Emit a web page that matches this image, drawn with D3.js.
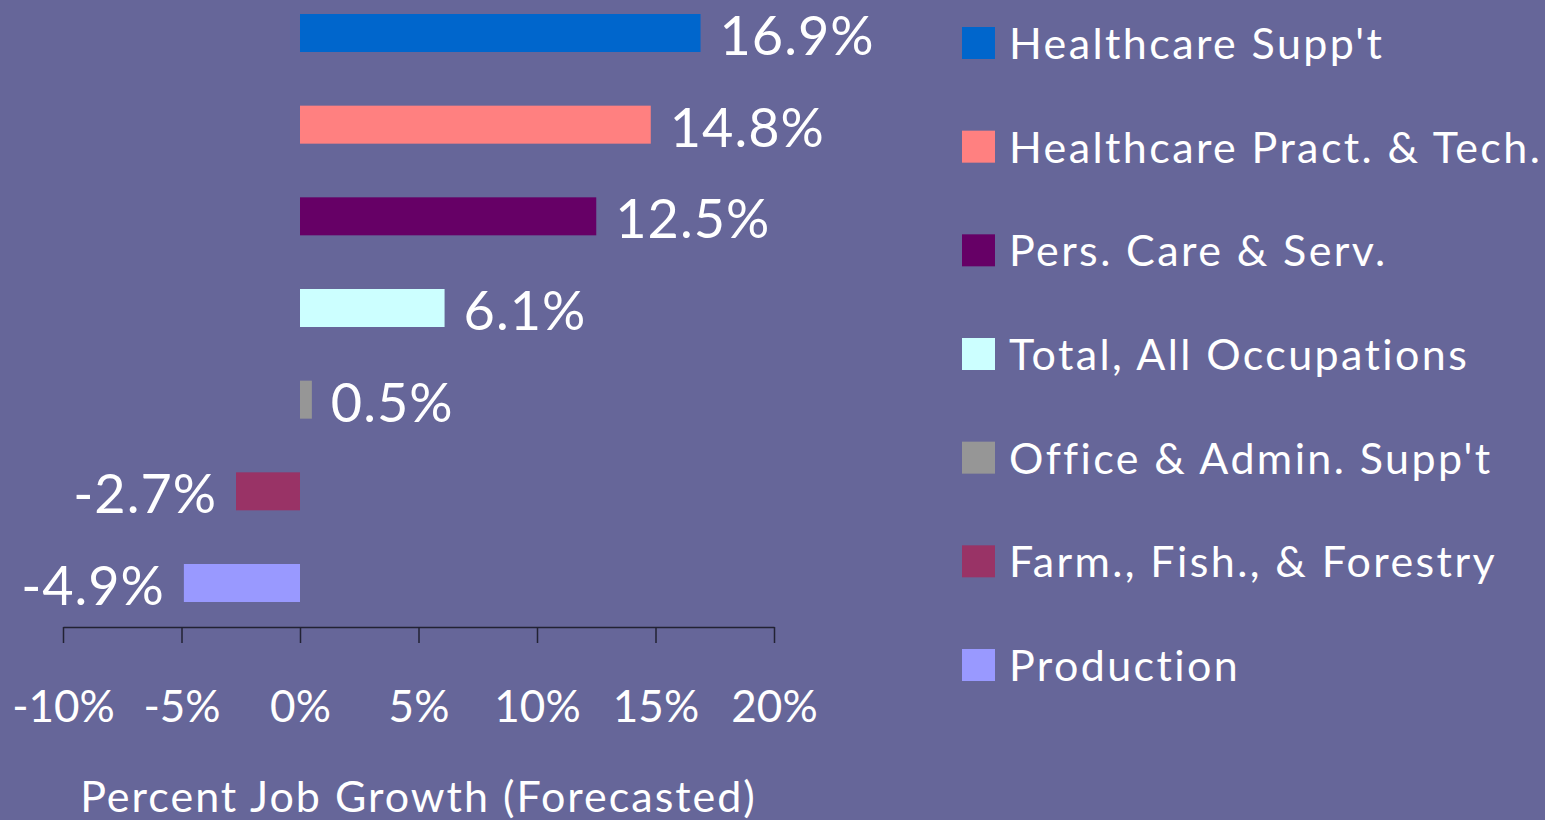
<!DOCTYPE html>
<html>
<head>
<meta charset="utf-8">
<script src="https://cdn.jsdelivr.net/npm/d3@7"></script>
<style>
  html, body { margin: 0; padding: 0; background: #666699; overflow: hidden; }
  svg text { font-family: Lato, "Open Sans", sans-serif; fill: #ffffff; }
</style>
</head>
<body>
<svg id="main-svg" width="1545" height="820"></svg>
<script>
// ----- //
// data
// ----- //
var categories = ["Healthcare Supp't", "Healthcare Pract. & Tech.", "Pers. Care & Serv.",
                  "Total, All Occupations", "Office & Admin. Supp't", "Farm., Fish., & Forestry", "Production"];
var growth = [16.9, 14.8, 12.5, 6.1, 0.5, -2.7, -4.9];
var colors = ["#0066CC", "#FF8080", "#660066", "#CCFFFF", "#969696", "#993366", "#9999FF"];
var tickValues = [-10, -5, 0, 5, 10, 15, 20];
var axisTitle = "Percent Job Growth (Forecasted)";

var rows = categories.map((c, i) => ({ name: c, value: growth[i], color: colors[i] }));

// ----- //
// scales
// ----- //
var svg = d3.select("#main-svg");
var x = d3.scaleLinear().domain([-10, 20]).range([63, 774]);
var y = d3.scalePoint().domain(categories).range([33, 583]);
var barHeight = 38;
var axisY = 627;

// bars
svg.append("g").selectAll("rect")
    .data(rows)
    .enter()
    .append("rect")
    .attr("x", d => x(Math.min(0, d.value)))
    .attr("y", d => y(d.name) - barHeight / 2)
    .attr("width", d => Math.abs(x(d.value) - x(0)))
    .attr("height", barHeight)
    .attr("fill", d => d.color);

// value labels
svg.append("g").selectAll("text")
    .data(rows)
    .enter()
    .append("text")
    .attr("x", d => d.value >= 0 ? x(d.value) + 19 : x(d.value) - 19)
    .attr("y", d => y(d.name) + 22)
    .attr("text-anchor", d => d.value >= 0 ? "start" : "end")
    .style("font-size", "54px")
    .style("letter-spacing", "1px")
    .text(d => d.value.toFixed(1) + "%");

// x axis
var axis = svg.append("g")
    .attr("transform", `translate(0,${axisY})`)
    .call(d3.axisBottom(x).tickValues(tickValues).tickSize(16).tickSizeOuter(0).tickFormat(d => d + "%"));
axis.select(".domain").attr("stroke", "#222233").attr("stroke-width", 1.5);
axis.selectAll(".tick line").attr("stroke", "#222233").attr("stroke-width", 1.5);
axis.selectAll(".tick text")
    .attr("y", 95)
    .attr("dy", 0)
    .style("font-size", "44px")
    .style("font-family", "Lato, 'Open Sans', sans-serif")
    .attr("fill", "#ffffff");

// axis title
svg.append("text")
    .attr("x", (x(-10) + x(20)) / 2)
    .attr("y", 812)
    .attr("text-anchor", "middle")
    .style("font-size", "43px")
    .style("letter-spacing", "2px")
    .text(axisTitle);

// legend
var ly = d3.scalePoint().domain(categories).range([43, 665]);
var legend = svg.append("g").selectAll("g")
    .data(rows)
    .enter()
    .append("g")
    .attr("transform", d => `translate(962,${ly(d.name)})`);
legend.append("rect")
    .attr("x", 0)
    .attr("y", -16)
    .attr("width", 33)
    .attr("height", 32)
    .attr("fill", d => d.color);
legend.append("text")
    .attr("x", 47)
    .attr("y", 16)
    .style("font-size", "43px")
    .style("letter-spacing", "2.4px")
    .text(d => d.name);
</script>
</body>
</html>
